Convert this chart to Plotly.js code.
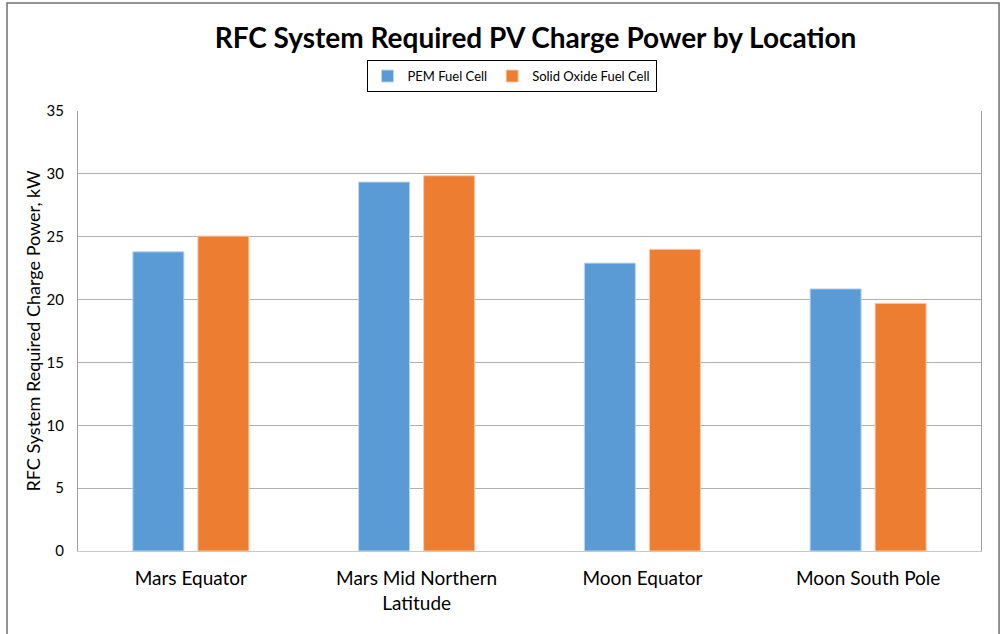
<!DOCTYPE html>
<html><head><meta charset="utf-8">
<script src="https://cdn.plot.ly/plotly-3.0.1.min.js"></script>
<style>html,body{margin:0;padding:0;background:#fff;}#chart{width:1001px;height:634px;}</style>
</head><body><div id="chart"></div>
<script>
const categories = ["Mars Equator", "Mars Mid Northern<br>Latitude", "Moon Equator", "Moon South Pole"];
const pemValues = [23.8, 29.35, 22.9, 20.85];
const sofcValues = [25.05, 29.85, 24.0, 19.7];
const seriesNames = ["PEM Fuel Cell", "Solid Oxide Fuel Cell"];
const yTicks = [0, 5, 10, 15, 20, 25, 30, 35];

const font = "Lato, 'Open Sans', sans-serif";
const traces = [
  {type: "bar", name: seriesNames[0], x: categories, y: pemValues,
   marker: {color: "#5B9BD5", line: {color: "#BDD7EE", width: 1}}},
  {type: "bar", name: seriesNames[1], x: categories, y: sofcValues,
   marker: {color: "#ED7D31", line: {color: "#F8CBAD", width: 1}}}
];
const layout = {
  width: 1001, height: 634,
  margin: {l: 78, r: 20, t: 111, b: 83, pad: 0},
  paper_bgcolor: "#fff", plot_bgcolor: "#fff",
  font: {family: font, color: "#000"},
  title: {text: "<b>RFC System Required PV Charge Power by Location</b>",
          font: {family: font, size: 28, color: "#000"},
          x: 0.535, xanchor: "center", xref: "container", y: 0.94, yanchor: "middle"},
  barmode: "group", bargap: 0.424, bargroupgap: 0.215,
  showlegend: true,
  legend: {orientation: "h", x: 0.511, xref: "container", xanchor: "center",
           y: 0.88, yref: "container", yanchor: "middle",
           bordercolor: "#000", borderwidth: 1, bgcolor: "#fff",
           font: {family: font, size: 13, color: "#000"},
           itemwidth: 30, traceorder: "normal"},
  xaxis: {type: "category", showgrid: false, zeroline: false,
          showline: true, linecolor: "#c8c8c8", linewidth: 1, mirror: false,
          ticks: "", tickfont: {family: font, size: 19, color: "#000"},
          ticklabelstandoff: 10},
  yaxis: {range: [0, 35], tickvals: yTicks, ticktext: yTicks.map(String),
          showgrid: true, gridcolor: "#b0b0b0", gridwidth: 1,
          zeroline: false, showline: true, linecolor: "#a0a0a0", linewidth: 1, mirror: true,
          ticks: "outside", ticklen: 10, tickcolor: "rgba(0,0,0,0)",
          tickfont: {family: font, size: 15, color: "#000"},
          title: {text: "RFC System Required Charge Power, kW",
                  font: {family: font, size: 18, color: "#000"}, standoff: 1}},
  shapes: [
    {type: "rect", xref: "paper", yref: "paper",
     x0: -71/903, x1: 1.02, y0: -0.3, y1: 1 + 108/440,
     line: {color: "#707070", width: 1.5}, fillcolor: "rgba(0,0,0,0)", layer: "below"}
  ]
};
Plotly.newPlot("chart", traces, layout, {displayModeBar: false, staticPlot: true});
</script></body></html>
